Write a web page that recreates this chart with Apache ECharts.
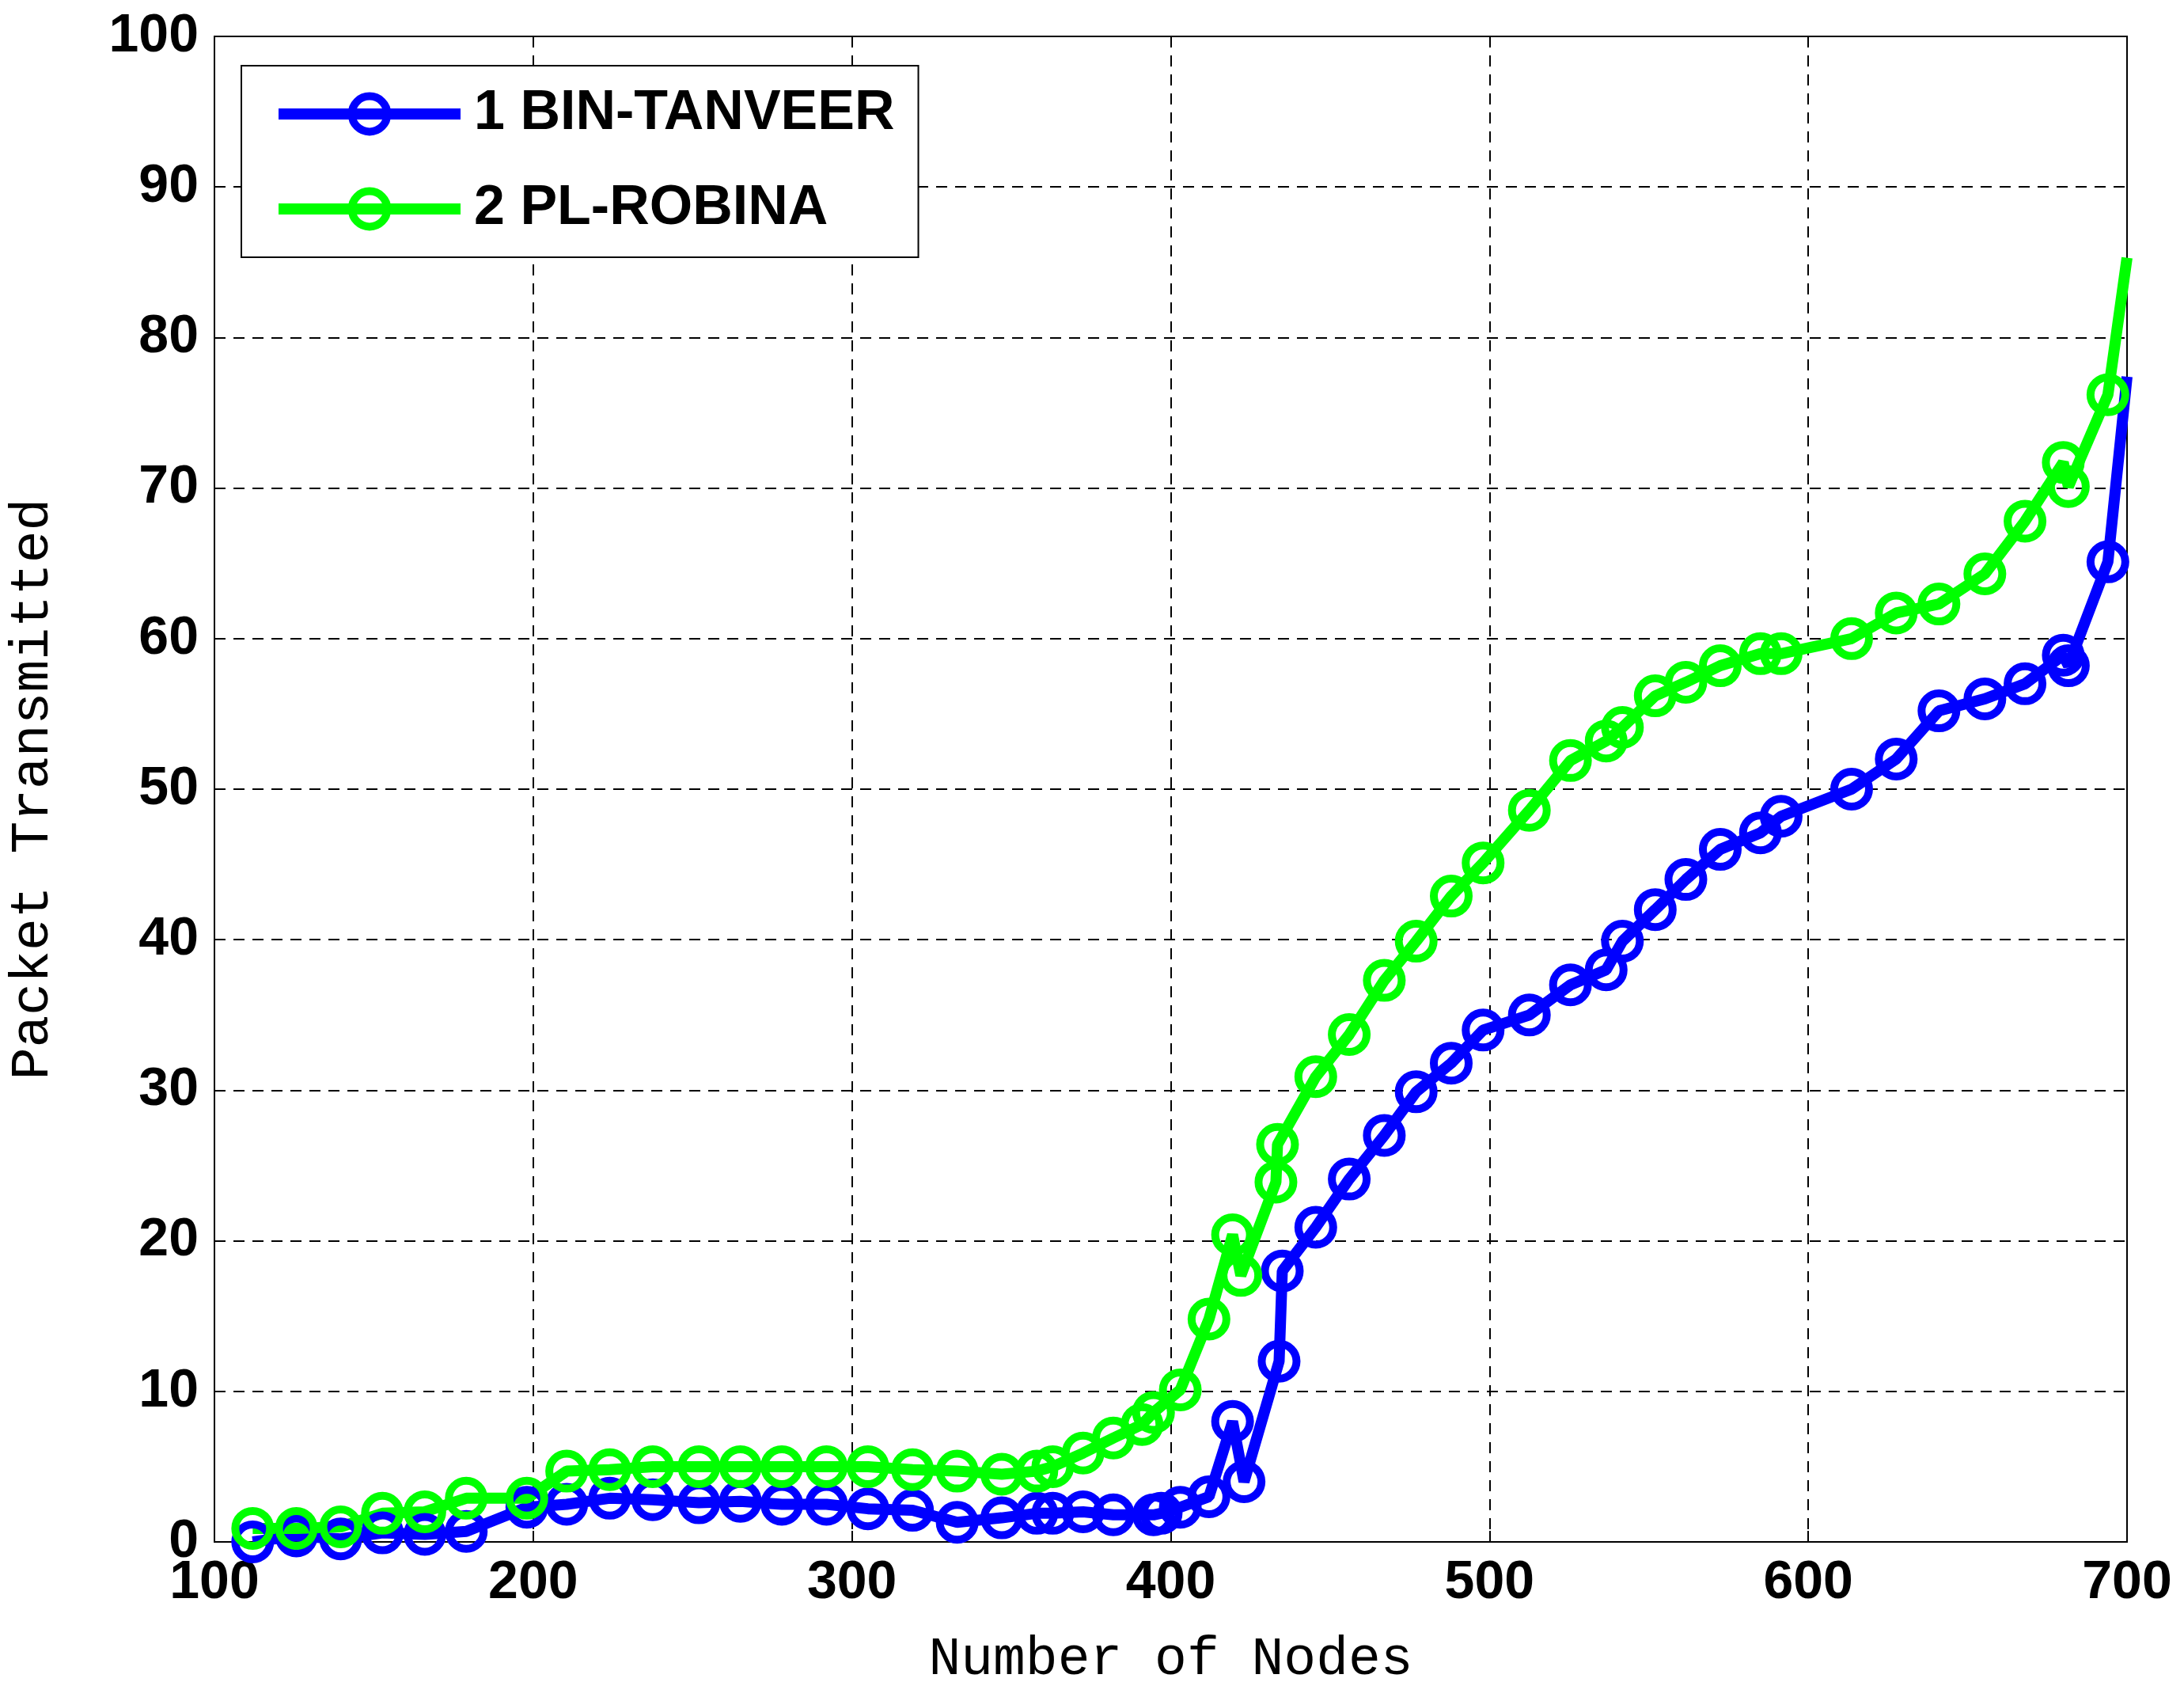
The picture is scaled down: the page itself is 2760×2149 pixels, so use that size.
<!DOCTYPE html>
<html><head><meta charset="utf-8">
<script src="https://cdn.jsdelivr.net/npm/echarts@6/dist/echarts.min.js"></script>
<style>html,body{margin:0;padding:0;background:#fff}#c{width:2760px;height:2149px}</style>
</head><body><div id="c"></div>
<script>
const seriesNames = ['1 BIN-TANVEER', '2 PL-ROBINA'];
const binX = [112,125.7,139.6,152.7,166,179,198,210.5,224,237.5,252,265,278,292,305,319,333,347,358,363,372.5,382,394.6,397,403,412,419.4,423,434,435,445.5,456,467,477,488,498,512.5,525.4,536.6,541.7,552,561.6,572.4,585,591.5,613.6,627.6,641,655.4,668,680,681.6,694,700];
const binY = [0,0.4,0.2,0.6,0.5,0.7,2.3,2.5,2.9,2.8,2.6,2.7,2.5,2.5,2.2,2.1,1.3,1.6,1.9,1.9,2.0,1.8,1.8,1.9,2.3,3.0,8.0,4.0,12.0,18.0,20.9,24.1,27,29.9,31.8,34,35,37,38,39.9,42,44,46,47.1,48.2,50,52,55.2,56,57,58.9,58.2,65.1,77.4];
const plX = [112,125.7,139.6,152.7,166,179,198,210.5,224,237.5,252,265,278,292,305,319,333,347,358,363,372.5,382,391,394.6,403,412,419.4,422,433,433.5,445.5,456,467,477,488,498,512.5,525.4,536.6,541.7,552,561.6,572.4,585,591.5,613.6,627.6,641,655.4,668,680,681.6,694,700];
const plY = [0.9,0.9,1.0,1.9,2.0,2.9,2.9,4.7,4.8,5.0,5.0,5.0,5.0,5.0,5.0,4.8,4.7,4.5,4.7,5.0,5.9,6.9,7.8,8.6,10.1,14.8,20.4,17.7,23.9,26.4,30.9,33.7,37.3,39.9,42.9,45.1,48.6,51.9,53.2,54.1,56.2,57.1,58.2,59.0,59.0,60,61.7,62.3,64.3,67.8,71.7,70.1,76.2,85.3];
const colors = ['#0000ff', '#00ff00'];

function mk(xs, ys) {
  return xs.map((x, i) => i === xs.length - 1 ? {value: [x, ys[i]], symbol: 'none'} : [x, ys[i]]);
}
const chart = echarts.init(document.getElementById('c'));
const tick = {color: '#000', fontFamily: 'Liberation Sans', fontWeight: 'bold', fontSize: 68};
const split = {show: true, lineStyle: {color: '#000', type: [14, 10], width: 2}};
chart.setOption({
  animation: false,
  backgroundColor: '#fff',
  grid: {left: 260, right: 72, top: 46, bottom: 201, show: true, borderColor: '#000', borderWidth: 2, containLabel: false},
  legend: {
    left: 305, top: 83, orient: 'vertical',
    padding: [26, 30, 26, 40], itemGap: 50, itemWidth: 230, itemHeight: 56,
    borderColor: '#000', borderWidth: 2, backgroundColor: '#fff',
    lineStyle: {width: 14},
    itemStyle: {borderWidth: 10},
    textStyle: {color: '#000', fontFamily: 'Liberation Sans', fontWeight: 'bold', fontSize: 70, padding: [0, 0, 0, 12]},
    data: seriesNames
  },
  xAxis: {
    type: 'value', min: 100, max: 700, interval: 100,
    name: 'Number of Nodes', nameLocation: 'middle', nameGap: 115,
    nameTextStyle: {color: '#000', fontFamily: 'Liberation Mono', fontSize: 68},
    axisLine: {show: true, lineStyle: {color: '#000', width: 2}},
    axisTick: {show: true, inside: true, length: 14, lineStyle: {color: '#000', width: 2}},
    axisLabel: Object.assign({margin: 18}, tick),
    splitLine: split
  },
  yAxis: {
    type: 'value', min: 0, max: 100, interval: 10,
    name: 'Packet Transmitted', nameLocation: 'middle', nameGap: 195,
    nameTextStyle: {color: '#000', fontFamily: 'Liberation Mono', fontSize: 68},
    axisLine: {show: true, lineStyle: {color: '#000', width: 2}},
    axisTick: {show: true, inside: true, length: 14, lineStyle: {color: '#000', width: 2}},
    axisLabel: Object.assign({margin: 20}, tick),
    splitLine: split
  },
  series: [
    {name: seriesNames[0], type: 'line', data: mk(binX, binY), color: colors[0],
     symbol: 'circle', symbolSize: 44, showAllSymbol: true,
     lineStyle: {width: 14, color: colors[0]},
     itemStyle: {color: 'rgba(0,0,0,0)', borderColor: colors[0], borderWidth: 10}},
    {name: seriesNames[1], type: 'line', data: mk(plX, plY), color: colors[1],
     symbol: 'circle', symbolSize: 44, showAllSymbol: true,
     lineStyle: {width: 14, color: colors[1]},
     itemStyle: {color: 'rgba(0,0,0,0)', borderColor: colors[1], borderWidth: 10}}
  ]
});
</script></body></html>
